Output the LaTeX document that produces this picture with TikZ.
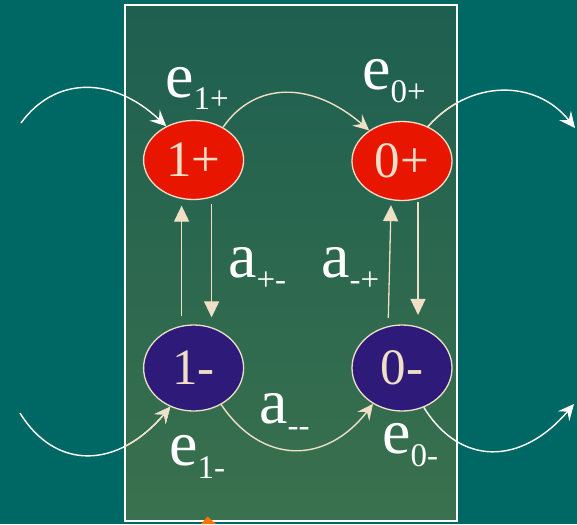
\documentclass[tikz,border=0pt]{standalone}
\usepackage{fontspec}
\setmainfont{Liberation Serif}
\usepackage{tikz}
\usetikzlibrary{arrows.meta,shapes.geometric}
\definecolor{seabg}{RGB}{0,104,100}
\definecolor{boxtop}{RGB}{30,95,80}
\definecolor{boxbot}{RGB}{58,113,78}
\definecolor{stred}{RGB}{232,22,0}
\definecolor{stnavy}{RGB}{46,26,120}
\definecolor{cream}{RGB}{239,223,199}
\newcommand{\sublab}[2]{{\fontsize{64}{64}\selectfont #1}\raisebox{-13pt}{\fontsize{33}{33}\selectfont #2}}

\begin{document}
\begin{tikzpicture}[
  x=1pt, y=-1pt,
  plus/.style={ellipse, draw=cream, line width=1.3pt, fill=stred, minimum width=100pt, minimum height=79pt, inner sep=0pt, text=cream, font=\fontsize{51}{51}\selectfont},
  minus/.style={plus, fill=stnavy, minimum height=86pt},
  lab/.style={anchor=base west, inner sep=0pt, text=white},
  curv/.style={line width=1.4pt, -{Stealth[length=16pt,width=15pt,inset=6pt]}},
  vline/.style={draw=cream, line width=1.3pt, -{Triangle[length=16pt,width=15pt]}}
]
\useasboundingbox (0,0) rectangle (577,524);
\fill[seabg] (0,0) rectangle (577,524);
\shade[top color=boxtop, bottom color=boxbot, draw=white, line width=1.5pt] (125,5) rectangle (457,521);

% states
\node[plus]  (n1p) at (193.6,160) {1+};
\node[plus]  (n0p) at (402,161)   {0+};
\node[minus] (n1m) at (193.6,368) {1-};
\node[minus] (n0m) at (402,368)   {0-};

% free ends
\coordinate (inTL)  at (21,123);
\coordinate (outTR) at (575,128);
\coordinate (inBL)  at (20,413);
\coordinate (outBR) at (574,404);

% emissions and transitions
\draw[curv, white] (inTL) .. controls (55,76) and (113,76) .. (n1p.129);
\draw[curv, cream] (n1p.48) .. controls (255,81) and (312,81) .. (n0p.137);
\draw[curv, white] (n0p.53) .. controls (470,79) and (536,79) .. (outTR);
\draw[curv, white] (inBL) .. controls (55,470) and (117,470) .. (n1m.239);
\draw[curv, cream] (n1m.307) .. controls (262,465) and (326,465) .. (n0m.231);
\draw[curv, white] (n0m.299) .. controls (460,466) and (521,466) .. (outBR);
\begin{scope}
  \clip (125,5) rectangle (457,521);
  \draw[line width=1.4pt, cream] (n0p.53) .. controls (470,79) and (536,79) .. (outTR);
  \draw[curv, cream] (inBL) .. controls (55,470) and (117,470) .. (n1m.239);
\end{scope}

\draw[vline] ([xshift=-12pt,yshift=8pt]n1m.north) -- ([xshift=-12pt,yshift=-5.5pt]n1p.south);
\draw[vline] ([xshift=18pt,yshift=-3.5pt]n1p.south) -- ([xshift=18pt,yshift=7pt]n1m.north);
\draw[vline] ([xshift=-13.7pt,yshift=6.4pt]n0m.north) -- ([xshift=-11pt,yshift=-4pt]n0p.south);
\draw[vline] ([xshift=16pt,yshift=-1pt]n0p.south) -- ([xshift=16pt,yshift=9.4pt]n0m.north);

% labels
\node[lab] (le1p) at (165,97)  {\sublab{e}{1+}};
\node[lab] (le0p) at (362,90)  {\sublab{e}{0+}};
\node[lab] (lapm) at (228,277) {\sublab{a}{+-}};
\node[lab] (lamp) at (321,277) {\sublab{a}{-+}};
\node[lab] (lamm) at (259,423) {\sublab{a}{-{}-}};
\node[lab] (le1m) at (169,465) {\sublab{e}{1-}};
\node[lab] (le0m) at (382,453) {\sublab{e}{0-}};

\fill[orange!90!red] (201,524) -- (207.5,516.5) -- (216,524) -- cycle;
\end{tikzpicture}
\end{document}
